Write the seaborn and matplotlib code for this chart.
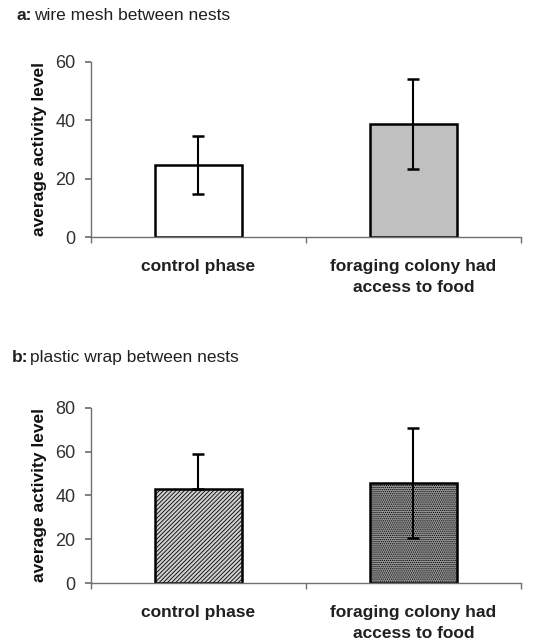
import matplotlib
matplotlib.use("Agg")
import matplotlib.pyplot as plt
import seaborn as sns
import pandas as pd

categories = ["control phase", "foraging colony had\naccess to food"]
a_means = [24.7, 38.7]
a_err = [10.0, 15.5]
b_means = [43.0, 45.7]
b_err_low = [0.0, 25.0]
b_err_high = [16.0, 25.0]
a_title = "wire mesh between nests"
b_title = "plastic wrap between nests"
ylabel = "average activity level"

sns.set_theme(style="white")
plt.rcParams['font.family'] = ['Liberation Sans', 'DejaVu Sans']

fig = plt.figure(figsize=(5.41, 6.43), dpi=100)
axA = fig.add_axes([0.168, 0.6314, 0.795, 0.2722])
axB = fig.add_axes([0.168, 0.0933, 0.795, 0.2722])

axis_col = "#707070"

def draw(ax, means, lo, hi, ymax, yticks, colors, hatches):
    df = pd.DataFrame({"cat": categories, "val": means})
    sns.barplot(data=df, x="cat", y="val", ax=ax, width=0.405,
                palette=colors, hue="cat", legend=False,
                edgecolor="black", linewidth=1.8, zorder=2)
    for p, h in zip(ax.patches, hatches):
        if h:
            p.set_hatch(h)
    ax.errorbar(x=list(range(len(categories))), y=means, yerr=[lo, hi],
                fmt="none", ecolor="black", elinewidth=1.5, capsize=4,
                capthick=1.8, zorder=3)
    ax.set_xlim(-0.5, 1.5)
    ax.set_ylim(0, ymax)
    ax.set_yticks(yticks)
    ax.set_xlabel("")
    ax.set_ylabel(ylabel, fontsize=12.5, fontweight="bold", labelpad=6,
                  color="#101010")
    for s in ["top", "right"]:
        ax.spines[s].set_visible(False)
    for s in ["left", "bottom"]:
        ax.spines[s].set_color(axis_col)
        ax.spines[s].set_linewidth(1.0)
    ax.set_xticks([0, 1])
    ax.set_xticklabels(categories, fontsize=12.5, fontweight="bold",
                       color="#202020", linespacing=1.45)
    ax.set_xticks([-0.5, 0.5, 1.5], minor=True)
    ax.tick_params(axis="x", which="major", length=0, pad=16)
    ax.tick_params(axis="x", which="minor", length=4, color=axis_col,
                   direction="out", bottom=True)
    ax.tick_params(axis="y", length=4, color=axis_col, direction="out",
                   left=True, labelsize=13, labelcolor="#303030", pad=7)

draw(axA, a_means, a_err, a_err, 60, [0, 20, 40, 60],
     ["#ffffff", "#c0c0c0"], [None, None])
plt.rcParams['hatch.color'] = '#8a8a8a'
plt.rcParams['hatch.linewidth'] = 0.6
draw(axB, b_means, b_err_low, b_err_high, 80, [0, 20, 40, 60, 80],
     ["#cfcfcf", "#969696"], ["////////", "........"])

fig.text(0.03, 0.988, "a:", fontsize=12.5, fontweight="bold", va="top", color="#202020")
fig.text(0.063, 0.988, a_title, fontsize=12.5, va="top", color="#202020")
fig.text(0.022, 0.456, "b:", fontsize=12.5, fontweight="bold", va="top", color="#202020")
fig.text(0.055, 0.456, b_title, fontsize=12.5, va="top", color="#202020")

fig.savefig("out.png", dpi=100)
